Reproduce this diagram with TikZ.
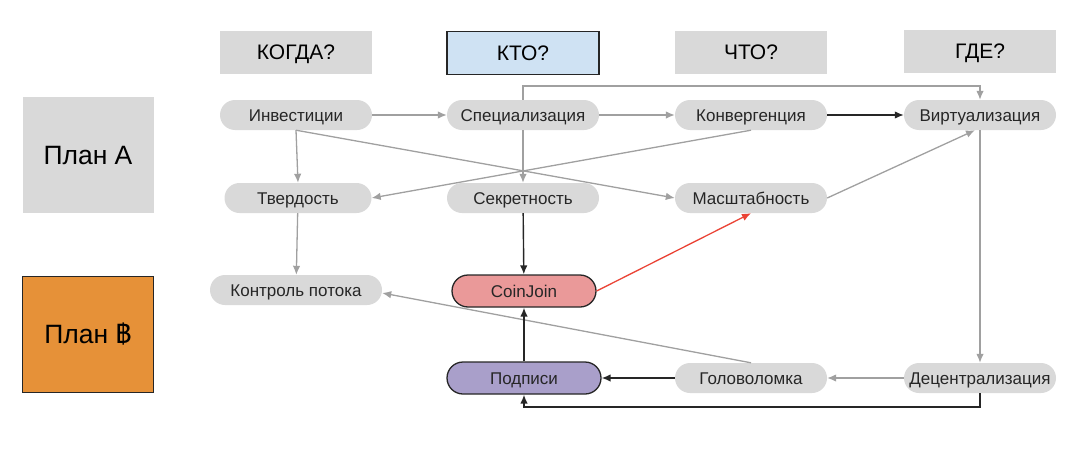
\documentclass[tikz,border=0pt]{standalone}
\usepackage{fontspec}
\setmainfont{Liberation Sans}
\newfontfamily\thaifont[Script=Thai]{Loma}
\usepackage{xcolor}
\usetikzlibrary{arrows.meta}

\definecolor{pillgray}{HTML}{D9D9D9}
\definecolor{linegray}{HTML}{A0A0A0}
\definecolor{whoblue}{HTML}{CFE2F3}
\definecolor{cjred}{HTML}{EA9999}
\definecolor{sigviolet}{HTML}{A99FCA}
\definecolor{planorange}{HTML}{E69138}
\definecolor{linkred}{HTML}{EA4335}

\begin{document}
\begin{tikzpicture}[
    x=1pt, y=-1pt,
    font=\fontsize{17}{19}\selectfont,
    >={Latex[length=9pt,width=7.5pt]},
    head/.style={fill=pillgray, minimum width=152pt, minimum height=43pt,
      inner sep=0pt, text height=15pt, text depth=-1pt,
      font=\fontsize{21}{24}\selectfont},
    plan/.style={fill=pillgray, minimum width=131pt, minimum height=116pt,
      inner sep=0pt, text height=19pt, text depth=0pt,
      font=\fontsize{26.5}{28}\selectfont},
    pill/.style={fill=pillgray, rounded corners=15pt, minimum width=152pt,
      minimum height=30pt, inner sep=0pt, text height=12pt, text depth=-0.3pt,
      text=black!85},
    key/.style={pill, draw=black!85, line width=1.3pt, minimum height=32pt,
      rounded corners=16pt},
    weak/.style={->, linegray, line width=1.3pt},
    strong/.style={->, black!85, line width=1.4pt},
  ]
  \useasboundingbox (0,0) rectangle (1089,463);

  %% ---- questions and plans -------------------------------------------
  \node[head] (when)  at (296,52) {КОГДА?};
  \node[head, fill=whoblue, draw=black!85, line width=1.2pt] (who) at (523,53) {КТО?};
  \node[head] (what)  at (751,52) {ЧТО?};
  \node[head] (where) at (980,51) {ГДЕ?};

  \node[plan] (planA) at (88,155) {План А};
  \node[plan, fill=planorange, draw=black!85, line width=1pt] (planB) at (88,334)
    {План {\thaifont ฿}};

  %% ---- topics --------------------------------------------------------
  \node[pill] (invest)  at (296,115) {Инвестиции};
  \node[pill] (special) at (523,115) {Специализация};
  \node[pill] (converg) at (751,115) {Конвергенция};
  \node[pill] (virtual) at (980,115) {Виртуализация};

  \node[pill, minimum width=147pt] (hard) at (298,198) {Твердость};
  \node[pill] (secret) at (523,198) {Секретность};
  \node[pill] (scale)  at (751,198) {Масштабность};

  \node[pill, minimum width=172pt] (flow) at (296,290) {Контроль потока};
  \node[key, fill=cjred, minimum width=144pt] (coinjoin) at (524,291) {CoinJoin};

  \node[key, fill=sigviolet, minimum width=154pt] (sigs) at (524,378) {Подписи};
  \node[pill] (puzzle)  at (751,378) {Головоломка};
  \node[pill] (decentr) at (980,378) {Децентрализация};

  \coordinate (over)  at (0,86);
  \coordinate (under) at (0,407);

  %% ---- links ---------------------------------------------------------
  \draw[weak] (invest) -- (special);
  \draw[weak] (special) -- (converg);
  \draw[strong] (converg) -- (virtual);
  \draw[weak] (special.north) |- (over -| virtual.north) -- (virtual.north);
  \draw[weak] (special) -- (secret);
  \draw[weak] (invest.south) -- (hard.north);
  \draw[weak] (invest.south) -- (scale.west);
  \draw[weak] (converg.south) -- (hard.east);
  \draw[weak] (scale.east) -- ([xshift=-5pt]virtual.south);
  \draw[weak] (virtual) -- (decentr);
  \draw[weak] (hard) -- (flow);
  \draw[strong] (secret) -- (coinjoin);
  \draw[->, linkred, line width=1.3pt] (coinjoin.east) -- (scale.south);
  \draw[weak] (puzzle.north) -- ([yshift=-3pt]flow.east);
  \draw[weak] (decentr) -- (puzzle);
  \draw[strong] (puzzle) -- (sigs);
  \draw[strong] (sigs) -- (coinjoin);
  \draw[strong] (decentr.south) |- (under -| sigs.south) -- (sigs.south);
\end{tikzpicture}
\end{document}
